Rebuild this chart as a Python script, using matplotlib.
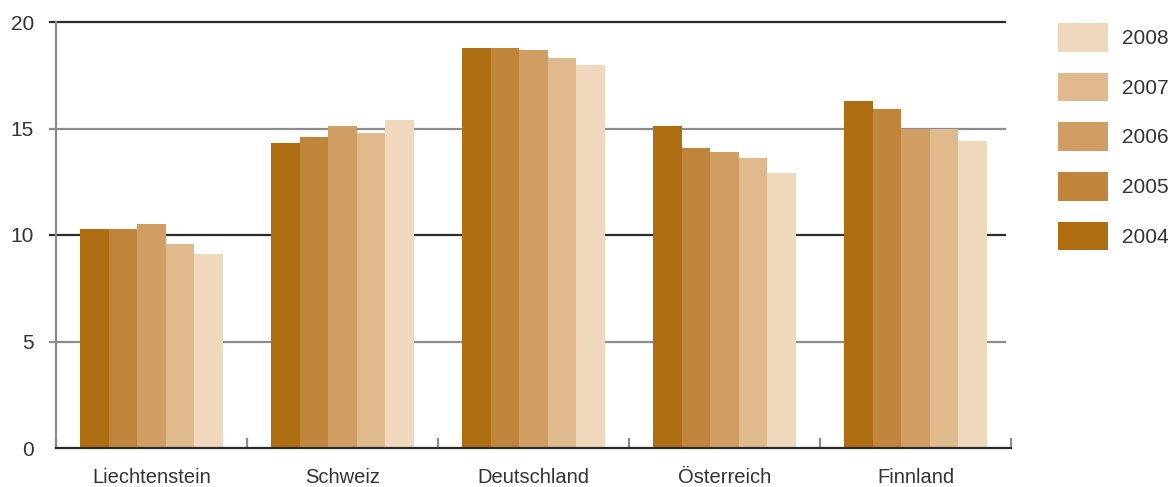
import matplotlib
matplotlib.use("Agg")
import matplotlib.pyplot as plt
from matplotlib.patches import Patch
import numpy as np

plt.rcParams['font.family'] = ['Liberation Sans', 'DejaVu Sans']

### data
countries = ['Liechtenstein', 'Schweiz', 'Deutschland', 'Österreich', 'Finnland']
years = ['2004', '2005', '2006', '2007', '2008']
v2004 = [10.3, 14.3, 18.8, 15.1, 16.3]
v2005 = [10.3, 14.6, 18.8, 14.1, 15.9]
v2006 = [10.5, 15.1, 18.7, 13.9, 15.0]
v2007 = [9.6, 14.8, 18.3, 13.6, 15.0]
v2008 = [9.1, 15.4, 18.0, 12.9, 14.4]
yticks = [0, 5, 10, 15, 20]

series = [v2004, v2005, v2006, v2007, v2008]
colors = ['#ae6d11', '#c0843a', '#d09e63', '#e0b98d', '#efd8bc']
textcol = '#333333'

fig = plt.figure(figsize=(11.72, 4.87), dpi=100)
ax = fig.add_axes([56/1172, 1-448/487, (1011-56)/1172, (448-22)/487])

x = np.arange(len(countries))
w = 0.15
for i, vals in enumerate(series):
    ax.bar(x + (i - 2) * w, vals, width=w, color=colors[i], linewidth=0, zorder=3)

### grid lines: 10 and 20 darker, 5 and 15 grey
x0 = (50 - 56) / 955
x1 = (1005 - 56) / 955
for yv in yticks[1:]:
    col = '#2b2b2b' if yv % 10 == 0 else '#8c8c8c'
    ax.axhline(yv, xmin=x0, xmax=x1, color=col, linewidth=1.6, zorder=1, clip_on=False)

ax.set_xlim(-0.5, len(countries) - 0.5)
ax.set_ylim(0, 20)

for s in ['top', 'right']:
    ax.spines[s].set_visible(False)
ax.spines['left'].set_color('#8c8c8c')
ax.spines['left'].set_linewidth(1.6)
ax.spines['bottom'].set_color('#2b2b2b')
ax.spines['bottom'].set_linewidth(1.6)
ax.spines['bottom'].set_zorder(4)

ax.set_yticks(yticks)
ax.set_yticklabels([str(t) for t in yticks])
ax.tick_params(axis='y', length=0, pad=16, labelsize=15, labelcolor=textcol)

ax.set_xticks(x)
ax.set_xticklabels(countries)
ax.tick_params(axis='x', which='major', length=0, pad=14.5, labelsize=14.5, labelcolor=textcol)
ax.set_xticks(np.arange(len(countries) + 1) - 0.5, minor=True)
ax.tick_params(axis='x', which='minor', direction='in', length=7, width=1.6, color='#8c8c8c')

### legend, newest year on top
handles = [Patch(facecolor=colors[i], edgecolor='none', label=years[i]) for i in range(4, -1, -1)]
fig.legend(handles=handles, loc='upper left', bbox_to_anchor=(1058/1172, 1-23/487),
           frameon=False, borderpad=0, borderaxespad=0, fontsize=15,
           handlelength=2.4, handleheight=1.75, labelspacing=1.0, handletextpad=0.65,
           labelcolor=textcol)

plt.savefig('out.png', dpi=100)
